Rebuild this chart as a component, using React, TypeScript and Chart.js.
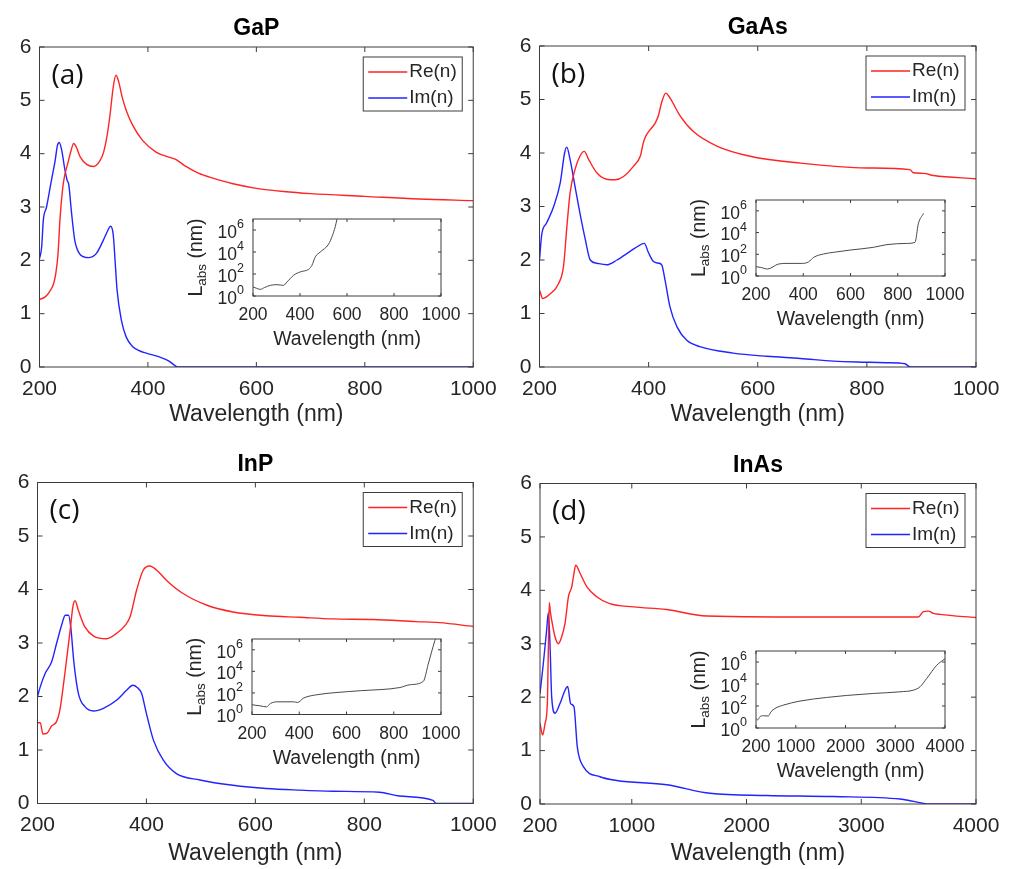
import React, { useEffect, useRef } from 'react';
import { Chart, registerables } from 'chart.js';

Chart.register(...registerables);

// ---------------- DATA ----------------
// GaP
const gapReWl = [200, 210, 219, 226, 230, 234, 238, 244, 253, 258, 263, 268, 275, 287, 300, 311, 318, 324, 330, 336, 341, 346, 352, 360, 372, 390, 415, 440, 452, 470, 494, 520, 555, 600, 650, 700, 800, 900, 1000];
const gapRe = [1.27, 1.31, 1.42, 1.56, 1.75, 2.1, 2.8, 3.45, 3.85, 4.05, 4.19, 4.12, 3.94, 3.8, 3.76, 3.86, 4.02, 4.3, 4.72, 5.25, 5.47, 5.35, 5.08, 4.81, 4.53, 4.25, 4.03, 3.93, 3.89, 3.76, 3.63, 3.54, 3.44, 3.35, 3.29, 3.25, 3.2, 3.15, 3.12];
const gapImWl = [200, 204, 207, 213, 222, 229, 233, 236.5, 241, 247, 251, 254, 259, 265, 274, 283, 290, 305, 317, 326, 331, 336, 340, 343, 351, 360, 372, 385, 397, 421, 439, 448, 455, 1000];
const gapIm = [2.03, 2.25, 2.75, 3.0, 3.5, 3.88, 4.15, 4.21, 4.06, 3.69, 3.5, 3.42, 2.9, 2.38, 2.12, 2.06, 2.05, 2.13, 2.36, 2.56, 2.64, 2.48, 1.9, 1.45, 0.88, 0.56, 0.38, 0.3, 0.26, 0.19, 0.11, 0.04, 0, 0];
const gapLabsWl = [200, 215, 231, 250, 274, 302, 330, 345, 373, 401, 437, 451, 465, 486, 522, 536, 550, 557, 565];
const gapLabs = [6.6, 5, 4, 6, 9.3, 10.7, 9.3, 19, 78, 155, 270, 630, 3600, 10000, 52000, 245000, 2e6, 9e6, 5e7];

// GaAs
const gaasReWl = [200, 206, 220, 235, 244, 250, 256, 265, 274, 282, 290, 305, 323, 339, 354, 372, 385, 390, 394, 400, 412, 418, 424, 431.5, 439, 458, 482, 525, 586, 678, 800, 879, 885, 904, 922, 1000];
const gaasRe = [1.44, 1.28, 1.37, 1.56, 1.88, 2.6, 3.25, 3.69, 3.94, 4.03, 3.88, 3.63, 3.51, 3.5, 3.56, 3.75, 3.95, 4.18, 4.3, 4.4, 4.56, 4.7, 4.95, 5.12, 5.03, 4.69, 4.4, 4.13, 3.94, 3.81, 3.72, 3.69, 3.63, 3.62, 3.58, 3.52];
const gaasImWl = [200, 204, 213, 226, 238, 246, 250, 256, 265, 274, 284, 293, 305, 323, 342, 366, 384, 392, 400, 409, 418, 424, 430, 439, 452, 470, 494, 555, 617, 678, 739, 800, 836, 870, 879, 1000];
const gaasIm = [2.0, 2.47, 2.69, 3.0, 3.44, 4.0, 4.11, 3.88, 3.38, 2.88, 2.38, 2.0, 1.94, 1.91, 2.0, 2.16, 2.28, 2.31, 2.13, 1.97, 1.94, 1.91, 1.63, 1.13, 0.75, 0.5, 0.38, 0.26, 0.2, 0.16, 0.11, 0.09, 0.08, 0.06, 0, 0];
const gaasLabsWl = [200, 218, 249, 295, 331, 394, 422, 444, 486, 528, 599, 697, 754, 838, 873, 887, 909];
const gaasLabs = [7.2, 6.3, 4.4, 12.6, 14.5, 14.5, 19.5, 52, 107, 151, 245, 437, 776, 1000, 1260, 63000, 590000];

// InP
const inpReWl = [200, 205, 210, 217, 226, 235, 241, 251, 260, 265, 269, 275, 287, 303, 327, 345, 361, 370, 382, 394, 406, 419, 437, 468, 510, 559, 620, 681, 742, 816, 895, 938, 1000];
const inpRe = [1.51, 1.51, 1.3, 1.31, 1.45, 1.53, 1.74, 2.49, 3.24, 3.68, 3.79, 3.61, 3.3, 3.13, 3.08, 3.18, 3.33, 3.49, 3.99, 4.36, 4.44, 4.36, 4.17, 3.92, 3.71, 3.58, 3.51, 3.48, 3.45, 3.44, 3.4, 3.38, 3.31];
const inpImWl = [200, 205, 214, 226, 235, 245, 251, 257, 261, 267, 275, 287, 303, 321, 345, 364, 375, 383, 391, 400, 413, 431, 455, 498, 559, 620, 681, 742, 828, 864, 926, 932, 1000];
const inpIm = [2.0, 2.18, 2.43, 2.65, 2.99, 3.36, 3.52, 3.52, 3.3, 2.62, 2.06, 1.81, 1.73, 1.78, 1.93, 2.12, 2.21, 2.17, 2.06, 1.68, 1.18, 0.81, 0.56, 0.44, 0.34, 0.28, 0.25, 0.23, 0.21, 0.14, 0.06, 0, 0];
const inpLabsWl = [200, 235, 261, 278, 306, 376, 393, 418, 475, 560, 658, 826, 868, 925, 946, 974, 985];
const inpLabs = [8, 6.3, 5.1, 10.5, 15, 15, 13, 33, 68, 110, 160, 316, 575, 1175, 47000, 7e6, 3e7];

// InAs
const inasReWl = [200, 223, 244, 264, 272, 281, 290, 302, 331, 360, 389, 418, 448, 477, 491, 511, 549, 607, 694, 807, 1014, 1304, 1653, 2757, 3497, 3541, 3585, 3628, 3686, 4000];
const inasRe = [1.51, 1.29, 1.51, 1.88, 2.8, 3.77, 3.6, 3.44, 3.13, 3.0, 3.13, 3.38, 3.88, 4.07, 4.25, 4.47, 4.32, 4.07, 3.88, 3.75, 3.69, 3.64, 3.52, 3.5, 3.5, 3.6, 3.61, 3.57, 3.55, 3.49];
const inasImWl = [200, 229, 258, 273, 287, 302, 331, 374, 418, 441, 467, 496, 525, 578, 723, 868, 1304, 1682, 2176, 2757, 3338, 3396, 3599, 4000];
const inasIm = [2.07, 2.63, 3.26, 3.58, 3.0, 2.0, 1.7, 1.88, 2.13, 2.2, 1.88, 1.82, 1.07, 0.7, 0.51, 0.44, 0.36, 0.2, 0.16, 0.14, 0.094, 0.075, 0, 0];
const inasLabsWl = [200, 233, 280, 347, 448, 502, 582, 750, 1085, 1621, 2023, 2559, 3095, 3364, 3498, 3632, 3833, 4000];
const inasLabs = [7.6, 5.4, 10.7, 13, 12.3, 30, 60, 120, 282, 600, 912, 1380, 1950, 2750, 5600, 31600, 5e5, 2e6];

// Tick labels
const xTicksShort = [200, 400, 600, 800, 1000];
const xTicksLong = [200, 1000, 2000, 3000, 4000];
const yTicksMain = [0, 1, 2, 3, 4, 5, 6];
const yTicksInset = [1, 1e2, 1e4, 1e6];
const seriesNames = ['Re(n)', 'Im(n)'];

// ---------------- STYLE ----------------
const FONT = "'Liberation Sans', Arial, sans-serif";
const TEXT = '#262626';
const AXIS = '#3c3c3c';
const RED = 'rgb(255,35,35)';
const BLUE = 'rgb(35,35,255)';
const GRAYLINE = '#4a4a4a';

type Rect = { l: number; t: number; r: number; b: number };

function pts(xs: number[], ys: number[]) {
  return xs.map((x, i) => ({ x, y: ys[i] }));
}

const plainNum = (v: any) => String(v);

function framePlugin(tickLen: number, whiteBg: boolean) {
  return {
    id: 'frame',
    beforeDatasetsDraw(chart: any) {
      if (!whiteBg) return;
      const { ctx, chartArea: a } = chart;
      ctx.save();
      ctx.fillStyle = '#ffffff';
      ctx.fillRect(a.left, a.top, a.right - a.left, a.bottom - a.top);
      ctx.restore();
    },
    afterDatasetsDraw(chart: any) {
      const { ctx, chartArea: a, scales } = chart;
      ctx.save();
      ctx.strokeStyle = AXIS;
      ctx.lineWidth = 1;
      ctx.strokeRect(a.left, a.top, a.right - a.left, a.bottom - a.top);
      ctx.beginPath();
      scales.x.ticks.forEach((t: any) => {
        const px = scales.x.getPixelForValue(t.value);
        ctx.moveTo(px, a.bottom);
        ctx.lineTo(px, a.bottom - tickLen);
        ctx.moveTo(px, a.top);
        ctx.lineTo(px, a.top + tickLen);
      });
      scales.y.ticks.forEach((t: any) => {
        const py = scales.y.getPixelForValue(t.value);
        ctx.moveTo(a.left, py);
        ctx.lineTo(a.left + tickLen, py);
        ctx.moveTo(a.right, py);
        ctx.lineTo(a.right - tickLen, py);
      });
      ctx.stroke();
      ctx.restore();
    },
  };
}

function decorPlugin(title: string, tag: string) {
  return {
    id: 'decor',
    afterDraw(chart: any) {
      const { ctx, chartArea: a } = chart;
      ctx.save();
      // title
      ctx.fillStyle = '#000';
      ctx.font = `bold 23px ${FONT}`;
      ctx.textAlign = 'center';
      ctx.textBaseline = 'middle';
      ctx.fillText(title, (a.left + a.right) / 2, a.top - 18);
      // panel tag
      ctx.font = `28px 'Open Sans', ${FONT}`;
      ctx.textAlign = 'left';
      ctx.fillStyle = '#111';
      ctx.fillText(tag, a.left + 12, a.top + 29);
      // legend
      const bw = 99, bh = 54;
      const bx = a.right - 11 - bw;
      const by = a.top + 10;
      ctx.fillStyle = '#fff';
      ctx.fillRect(bx, by, bw, bh);
      ctx.strokeStyle = AXIS;
      ctx.lineWidth = 1;
      ctx.strokeRect(bx, by, bw, bh);
      ctx.font = `19px ${FONT}`;
      ctx.textBaseline = 'middle';
      chart.data.datasets.forEach((ds: any, i: number) => {
        const yy = by + 15 + i * 26;
        ctx.strokeStyle = ds.borderColor;
        ctx.lineWidth = 1.4;
        ctx.beginPath();
        ctx.moveTo(bx + 5, yy);
        ctx.lineTo(bx + 44, yy);
        ctx.stroke();
        ctx.fillStyle = TEXT;
        ctx.fillText(ds.label, bx + 46, yy);
      });
      ctx.restore();
    },
  };
}

function insetLabelsPlugin(offset: number) {
  return {
    id: 'insetLabels',
    afterDraw(chart: any) {
      const { ctx, chartArea: a, scales } = chart;
      ctx.save();
      ctx.fillStyle = TEXT;
      // y tick labels: 10 with superscript exponent
      const baseFont = `17.5px ${FONT}`;
      const expFont = `12.5px ${FONT}`;
      ctx.textBaseline = 'middle';
      ctx.textAlign = 'left';
      yTicksInset.forEach((v) => {
        const py = scales.y.getPixelForValue(v);
        const e = String(Math.round(Math.log10(v)));
        ctx.font = expFont;
        const we = ctx.measureText(e).width;
        ctx.font = baseFont;
        const wb = ctx.measureText('10').width;
        const right = a.left - 9;
        ctx.fillText('10', right - we - wb, py + 3);
        ctx.font = expFont;
        ctx.fillText(e, right - we, py - 5);
      });
      // y title L_abs (nm)
      const cx = a.left - offset;
      const cy = (a.top + a.bottom) / 2;
      ctx.translate(cx, cy);
      ctx.rotate(-Math.PI / 2);
      const big = `19.5px ${FONT}`;
      const small = `13.5px ${FONT}`;
      ctx.font = big;
      const wL = ctx.measureText('L').width;
      const wN = ctx.measureText(' (nm)').width;
      ctx.font = small;
      const wA = ctx.measureText('abs').width;
      const x0 = -(wL + wA + wN) / 2;
      ctx.font = big;
      ctx.fillText('L', x0, 0);
      ctx.font = small;
      ctx.fillText('abs', x0 + wL, 5);
      ctx.font = big;
      ctx.fillText(' (nm)', x0 + wL + wA, 0);
      ctx.restore();
    },
  };
}

// ---------------- MAIN PANEL ----------------
type PanelProps = {
  x: number; y: number; w: number; h: number; area: Rect;
  title: string; tag: string; xMax: number; xTicks: number[];
  reX: number[]; reY: number[]; imX: number[]; imY: number[];
};

function Panel(p: PanelProps) {
  const ref = useRef<HTMLCanvasElement>(null);
  useEffect(() => {
    const chart = new Chart(ref.current as HTMLCanvasElement, {
      type: 'line',
      data: {
        datasets: [
          { label: seriesNames[0], data: pts(p.reX, p.reY), borderColor: RED, borderWidth: 1.4, pointRadius: 0, fill: false, cubicInterpolationMode: 'monotone' },
          { label: seriesNames[1], data: pts(p.imX, p.imY), borderColor: BLUE, borderWidth: 1.4, pointRadius: 0, fill: false, cubicInterpolationMode: 'monotone' },
        ],
      } as any,
      options: {
        animation: false,
        responsive: false,
        maintainAspectRatio: false,
        events: [],
        layout: { padding: { left: 0, top: p.area.t, right: p.w - p.area.r, bottom: 0 } },
        plugins: { legend: { display: false }, tooltip: { enabled: false }, title: { display: false } },
        scales: {
          x: {
            type: 'linear', min: 200, max: p.xMax,
            afterBuildTicks: (s: any) => { s.ticks = p.xTicks.map((v) => ({ value: v })); },
            afterFit: (s: any) => { s.height = p.h - p.area.b; },
            grid: { display: false, drawTicks: false },
            border: { display: false },
            ticks: { font: { family: FONT, size: 21 }, color: TEXT, padding: 9.4, maxRotation: 0, autoSkip: false, callback: plainNum },
            title: { display: true, text: 'Wavelength (nm)', color: TEXT, font: { family: FONT, size: 23 }, padding: { top: 0, bottom: 1.2 } },
          },
          y: {
            type: 'linear', min: 0, max: 6,
            afterBuildTicks: (s: any) => { s.ticks = yTicksMain.map((v) => ({ value: v })); },
            afterFit: (s: any) => { s.width = p.area.l; },
            grid: { display: false, drawTicks: false },
            border: { display: false },
            ticks: { font: { family: FONT, size: 21 }, color: TEXT, padding: 8, autoSkip: false, callback: plainNum },
          },
        },
      } as any,
      plugins: [framePlugin(5, false), decorPlugin(p.title, p.tag)],
    });
    return () => chart.destroy();
  }, []);
  return (
    <canvas ref={ref} width={p.w} height={p.h}
      style={{ position: 'absolute', left: p.x, top: p.y, width: p.w, height: p.h }} />
  );
}

// ---------------- INSET ----------------
type InsetProps = { rect: Rect; xMax: number; xTicks: number[]; xs: number[]; ys: number[] };

function Inset(p: InsetProps) {
  const ref = useRef<HTMLCanvasElement>(null);
  const padL = 75, padT = 12, padR = 30, padB = 55;
  const pw = p.rect.r - p.rect.l;
  const ph = p.rect.b - p.rect.t;
  const w = Math.round(pw + padL + padR);
  const h = Math.round(ph + padT + padB);
  useEffect(() => {
    const chart = new Chart(ref.current as HTMLCanvasElement, {
      type: 'line',
      data: {
        datasets: [
          { label: 'Labs', data: pts(p.xs, p.ys), borderColor: GRAYLINE, borderWidth: 1, pointRadius: 0, fill: false, cubicInterpolationMode: 'monotone' },
        ],
      } as any,
      options: {
        animation: false,
        responsive: false,
        maintainAspectRatio: false,
        events: [],
        layout: { padding: { left: 0, top: padT, right: w - padL - pw, bottom: 0 } },
        plugins: { legend: { display: false }, tooltip: { enabled: false }, title: { display: false } },
        scales: {
          x: {
            type: 'linear', min: 200, max: p.xMax,
            afterBuildTicks: (s: any) => { s.ticks = p.xTicks.map((v) => ({ value: v })); },
            afterFit: (s: any) => { s.height = h - padT - ph; },
            grid: { display: false, drawTicks: false },
            border: { display: false },
            ticks: { font: { family: FONT, size: 17.5 }, color: TEXT, padding: 8.8, maxRotation: 0, autoSkip: false, callback: plainNum },
            title: { display: true, text: 'Wavelength (nm)', color: TEXT, font: { family: FONT, size: 19.5 }, padding: { top: 0, bottom: 0 } },
          },
          y: {
            type: 'logarithmic', min: 1, max: 1e7,
            afterBuildTicks: (s: any) => { s.ticks = yTicksInset.map((v) => ({ value: v })); },
            afterFit: (s: any) => { s.width = padL; },
            grid: { display: false, drawTicks: false },
            border: { display: false },
            ticks: { display: false },
          },
        },
      } as any,
      plugins: [framePlugin(3, true), insetLabelsPlugin(56)],
    });
    return () => chart.destroy();
  }, []);
  return (
    <canvas ref={ref} width={w} height={h}
      style={{ position: 'absolute', left: p.rect.l - padL, top: p.rect.t - padT, width: w, height: h }} />
  );
}

export default function App() {
  return (
    <div style={{ position: 'absolute', left: 0, top: 0, width: 1013, height: 869, background: '#fff', overflow: 'hidden' }}>
      <Panel x={0} y={0} w={506} h={430} area={{ l: 39.5, t: 47, r: 476, b: 367 }} title="GaP" tag="(a)"
        xMax={1000} xTicks={xTicksShort} reX={gapReWl} reY={gapRe} imX={gapImWl} imY={gapIm} />
      <Panel x={506} y={0} w={507} h={430} area={{ l: 33.5, t: 46, r: 470, b: 367 }} title="GaAs" tag="(b)"
        xMax={1000} xTicks={xTicksShort} reX={gaasReWl} reY={gaasRe} imX={gaasImWl} imY={gaasIm} />
      <Panel x={0} y={430} w={506} h={439} area={{ l: 37.5, t: 52.5, r: 474, b: 373.5 }} title="InP" tag="(c)"
        xMax={1000} xTicks={xTicksShort} reX={inpReWl} reY={inpRe} imX={inpImWl} imY={inpIm} />
      <Panel x={506} y={430} w={507} h={439} area={{ l: 34, t: 53.5, r: 470, b: 374 }} title="InAs" tag="(d)"
        xMax={4000} xTicks={xTicksLong} reX={inasReWl} reY={inasRe} imX={inasImWl} imY={inasIm} />
      <Inset rect={{ l: 253, t: 219, r: 441, b: 296 }} xMax={1000} xTicks={xTicksShort} xs={gapLabsWl} ys={gapLabs} />
      <Inset rect={{ l: 756, t: 199.5, r: 945, b: 275.5 }} xMax={1000} xTicks={xTicksShort} xs={gaasLabsWl} ys={gaasLabs} />
      <Inset rect={{ l: 252, t: 638.5, r: 441, b: 714 }} xMax={1000} xTicks={xTicksShort} xs={inpLabsWl} ys={inpLabs} />
      <Inset rect={{ l: 756, t: 651, r: 945, b: 728 }} xMax={4000} xTicks={xTicksLong} xs={inasLabsWl} ys={inasLabs} />
    </div>
  );
}
